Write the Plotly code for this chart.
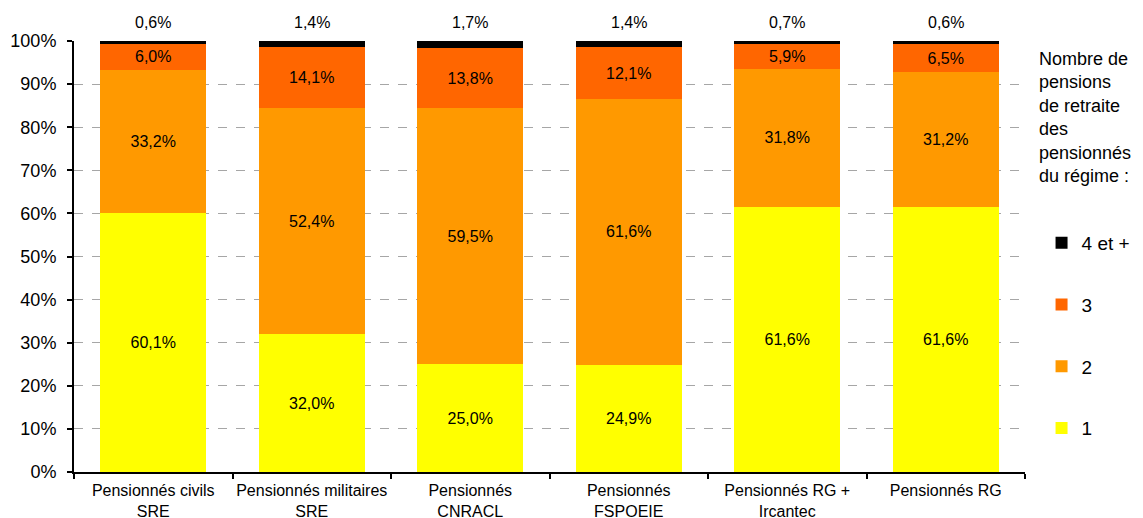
import plotly.graph_objects as go

categories = ["Pensionnés civils<br>SRE", "Pensionnés militaires<br>SRE", "Pensionnés<br>CNRACL",
              "Pensionnés<br>FSPOEIE", "Pensionnés RG +<br>Ircantec", "Pensionnés RG"]
s1 = [60.1, 32.0, 25.0, 24.9, 61.6, 61.6]
s2 = [33.2, 52.4, 59.5, 61.6, 31.8, 31.2]
s3 = [6.0, 14.1, 13.8, 12.1, 5.9, 6.5]
s4 = [0.6, 1.4, 1.7, 1.4, 0.7, 0.6]
series_names = ["1", "2", "3", "4 et +"]
colors = ["#FFFF00", "#FF9900", "#FF6600", "#000000"]
yticks = list(range(0, 101, 10))
ytick_labels = [f"{v}%" for v in yticks]

FONT = "Arial, Liberation Sans, sans-serif"

def fmt(v):
    return f"{v:.1f}%".replace(".", ",")

fig = go.Figure()
for i, (name, vals, col) in enumerate(zip(series_names, [s1, s2, s3, s4], colors)):
    show_text = name != "4 et +"
    fig.add_trace(go.Bar(
        x=categories, y=vals, name=name, legendgroup=name,
        legendrank=1000 - i,
        marker=dict(color=col, line=dict(width=0)),
        text=[fmt(v) for v in vals] if show_text else None,
        textposition="inside" if show_text else "none",
        insidetextanchor="middle",
        constraintext="none",
        textfont=dict(color="black", size=16, family=FONT),
        hoverinfo="skip",
    ))

for c, v in zip(categories, s4):
    fig.add_annotation(x=c, y=100, text=fmt(v), showarrow=False, yshift=19,
                       font=dict(size=16, color="black", family=FONT))

fig.add_annotation(
    xref="paper", yref="paper", x=1.0125, y=0.985, xanchor="left", yanchor="top",
    text="Nombre de<br>pensions<br>de retraite<br>des<br>pensionnés<br>du régime :",
    showarrow=False, align="left", font=dict(size=18, color="black", family=FONT))

fig.update_layout(
    width=1135, height=510,
    margin=dict(l=66, r=118, t=33, b=46, autoexpand=False),
    barmode="stack", bargap=0.33,
    plot_bgcolor="white", paper_bgcolor="white",
    font=dict(family=FONT, color="black"),
    legend=dict(
        traceorder="grouped", tracegroupgap=34,
        x=1.0174, xanchor="left", y=0.5754, yanchor="top",
        font=dict(size=19, family=FONT, color="black"),
        bgcolor="rgba(0,0,0,0)",
    ),
)
fig.update_xaxes(
    showline=True, linecolor="black", linewidth=2,
    ticks="outside", tickson="boundaries", ticklen=5, tickcolor="black", tickwidth=1.5,
    tickfont=dict(size=16, family=FONT, color="black"),
    tickangle=0, automargin=False, ticklabelstandoff=3,
    showgrid=False,
)
fig.update_yaxes(
    range=[0, 100], tickvals=yticks, ticktext=ytick_labels,
    showline=True, linecolor="black", linewidth=2,
    ticks="outside", ticklen=5, tickcolor="black", tickwidth=1.5,
    tickfont=dict(size=18, family=FONT, color="black"),
    ticklabelstandoff=7,
    showgrid=True, gridcolor="#A6A6A6", griddash="dash", gridwidth=1,
    zeroline=False, automargin=False,
)

fig.write_html("out.html")
